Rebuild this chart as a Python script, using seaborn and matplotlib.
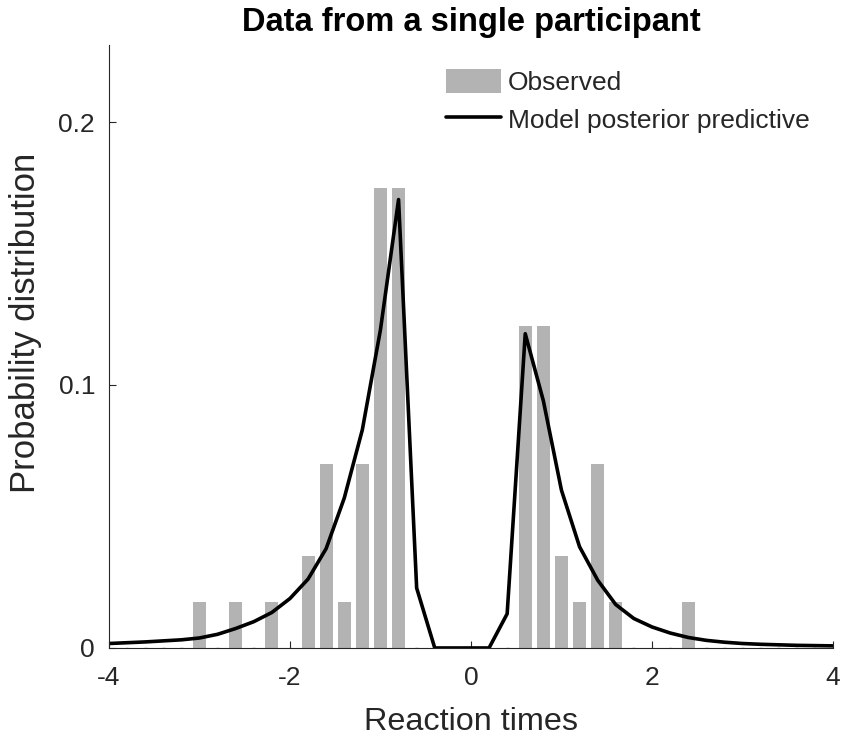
import numpy as np
import pandas as pd
import matplotlib
matplotlib.use("Agg")
import matplotlib.pyplot as plt
import seaborn as sns

# observed response-time histogram (bin centres, probability per bin)
obs_rt = [-3.0, -2.6, -2.2, -1.8, -1.6, -1.4, -1.2, -1.0, -0.8,
          0.6, 0.8, 1.0, 1.2, 1.4, 1.6, 2.4]
obs_prob = [0.0175, 0.0175, 0.0175, 0.035, 0.07, 0.0175, 0.07, 0.175, 0.175,
            0.1225, 0.1225, 0.035, 0.0175, 0.07, 0.0175, 0.0175]

# model posterior predictive on the same 0.2 grid
model_rt = np.linspace(-4, 4, 41)
model_prob = [0.0017, 0.0020, 0.0023, 0.0027, 0.0031, 0.0038, 0.0052, 0.0074,
              0.0100, 0.0135, 0.0188, 0.0262, 0.0378, 0.0570, 0.0830, 0.1210,
              0.1705, 0.0228, 0.0, 0.0, 0.0, 0.0, 0.0130, 0.1195, 0.0940,
              0.0600, 0.0385, 0.0258, 0.0165, 0.0112, 0.0080, 0.0057, 0.0040,
              0.0029, 0.0022, 0.0017, 0.0014, 0.0012, 0.0010, 0.0009, 0.0008]

bin_w = 0.2
bin_edges = list(np.round(np.arange(-4.1, 4.11, bin_w), 2))
x_ticks = [-4, -2, 0, 2, 4]
y_ticks = [0, 0.1, 0.2]
y_ticklabels = ['0', '0.1', '0.2']

obs = pd.DataFrame({'rt': obs_rt, 'prob': obs_prob})
model = pd.DataFrame({'rt': model_rt, 'prob': model_prob})

sns.set_style("ticks")
plt.rcParams['font.family'] = ['Liberation Sans', 'DejaVu Sans']
plt.rcParams['xtick.direction'] = 'in'
plt.rcParams['ytick.direction'] = 'in'

fig = plt.figure(figsize=(8.44, 7.36), dpi=100)
ax = fig.add_axes([0.1291, 0.1196, 0.8578, 0.8193])

sns.histplot(data=obs, x='rt', weights='prob', bins=bin_edges, shrink=0.72,
             color='#b3b3b3', alpha=1, linewidth=0, ax=ax)

# empty bins show as tiny dashes on the baseline
centres = np.round((np.array(bin_edges[:-1]) + np.array(bin_edges[1:])) / 2, 1)
empty = np.array([c for c in centres if c not in obs_rt and -4 < c < 4])
ax.hlines(np.zeros(len(empty)), empty - 0.015, empty + 0.015,
          color='#777777', lw=1, zorder=1)

sns.lineplot(data=model, x='rt', y='prob', color='black', lw=2.6, ax=ax)

ax.set_xlim(-4, 4)
ax.set_ylim(0, 0.2293)
ax.set_xticks(x_ticks)
ax.set_xticklabels([str(t) for t in x_ticks])
ax.set_yticks(y_ticks)
ax.set_yticklabels(y_ticklabels)
ax.tick_params(labelsize=19, colors='#262626', length=5, width=0.8)
ax.tick_params(axis='x', pad=13)
ax.tick_params(axis='y', pad=10)
for side in ['top', 'right']:
    ax.spines[side].set_visible(False)
for side in ['left', 'bottom']:
    ax.spines[side].set_color('#262626')
    ax.spines[side].set_linewidth(0.8)

ax.set_xlabel('Reaction times', fontsize=23.3, color='#262626', labelpad=12)
ax.set_ylabel('Probability distribution', fontsize=25, color='#262626')
ax.yaxis.set_label_coords(-0.093, 0.539)
ax.set_title('Data from a single participant', fontsize=23.5, fontweight='bold',
             color='black', pad=10)

handles = [plt.Rectangle((0, 0), 1, 1, color='#b3b3b3', lw=0),
           plt.Line2D([], [], color='black', lw=2.6)]
ax.legend(handles, ['Observed', 'Model posterior predictive'],
          loc='upper left', bbox_to_anchor=(446 / 844, 1 - 69 / 736),
          bbox_transform=fig.transFigure, frameon=False, fontsize=19,
          handlelength=2.1, handleheight=1.0, handletextpad=0.25,
          labelspacing=0.45, borderpad=0, borderaxespad=0)

fig.savefig('out.png', dpi=100)
